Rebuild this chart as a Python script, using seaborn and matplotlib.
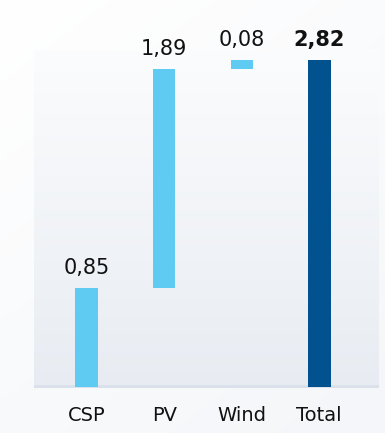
import numpy as np
import pandas as pd
import matplotlib
matplotlib.use("Agg")
import matplotlib.pyplot as plt
from matplotlib.colors import LinearSegmentedColormap
import seaborn as sns

categories = ["CSP", "PV", "Wind", "Total"]
values = [0.85, 1.89, 0.08, 2.82]
bottoms = [0.0, 0.85, 2.74, 0.0]
labels = ["0,85", "1,89", "0,08", "2,82"]
colors = ["#5fcbf3", "#5fcbf3", "#5fcbf3", "#02528f"]

sns.set_theme(style="white")
plt.rcParams["font.family"] = ["DejaVu Sans"]

df = pd.DataFrame({"cat": categories, "val": values, "bottom": bottoms})

fig = plt.figure(figsize=(3.85, 4.33), dpi=100)
fig.patch.set_facecolor("#f7f8fb")

# figure background gradient
bg = fig.add_axes([0, 0, 1, 1], zorder=-10)
bg.set_axis_off()
g = np.linspace(0, 1, 256).reshape(-1, 1)
gx = np.linspace(0, 1, 256).reshape(1, -1)
grad = 0.6 * g + 0.4 * (1 - gx)
cmap_bg = LinearSegmentedColormap.from_list("bg", ["#f4f6f9", "#ffffff"])
bg.imshow(grad * np.ones((256, 256)), cmap=cmap_bg, aspect="auto",
          extent=[0, 1, 0, 1], origin="lower", vmin=0, vmax=1)
bg.set_xlim(0, 1)
bg.set_ylim(0, 1)

ax = fig.add_axes([34 / 385, (433 - 388) / 433, 345 / 385, 338 / 433])
ax.set_facecolor("none")
cmap_ax = LinearSegmentedColormap.from_list("ax", ["#e8ecf2", "#fbfcfd"])
ax.imshow(np.linspace(0, 1, 256).reshape(-1, 1), cmap=cmap_ax, aspect="auto",
          extent=[0, 1, 0, 1], origin="lower", transform=ax.transAxes, zorder=0)

ax.axhline(0, color="#dae1ea", lw=3.4, zorder=0.8)

for i in range(len(categories)):
    sns.barplot(data=df.iloc[[i]], x="cat", y="val", order=categories,
                color=colors[i], bottom=bottoms[i], width=0.29, saturation=1,
                linewidth=0, ax=ax, zorder=2)

for i, (v, b, lab) in enumerate(zip(values, bottoms, labels)):
    ax.annotate(lab, (i, v + b), xytext=(0, 7.5), textcoords="offset points",
                ha="center", va="bottom", fontsize=15, color="#111111",
                fontweight="bold" if categories[i] == "Total" else "normal")

ax.set_xlim(-0.68, 3.77)
ax.set_ylim(-0.011, 2.908)
ax.set_xlabel("")
ax.set_ylabel("")
ax.set_yticks([])
ax.tick_params(axis="x", length=0, labelsize=14, colors="#111111", pad=13)
for s in ax.spines.values():
    s.set_visible(False)

fig.savefig("out.png", dpi=100)
